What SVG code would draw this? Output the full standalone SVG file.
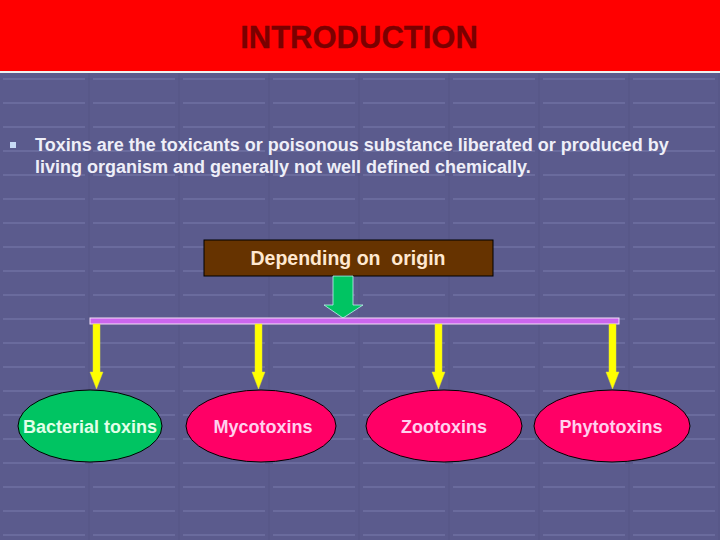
<svg xmlns="http://www.w3.org/2000/svg" width="720" height="540" viewBox="0 0 720 540">
<defs>
<style>
.t{font-family:"Liberation Sans",Arial,sans-serif;font-weight:bold}
.yl{fill:#ffff00;stroke:#e0e040;stroke-width:0.5}
.ell{stroke:#000;stroke-width:1}
</style>
<pattern id="grid" x="0" y="6" width="90" height="24" patternUnits="userSpaceOnUse">
<rect width="90" height="24" fill="#5b5b8d"/>
<rect x="3" y="0" width="82" height="2" fill="#6a6b9d"/>
<rect x="88" y="0" width="2" height="24" fill="#585889"/>
</pattern>
</defs>
<rect width="720" height="540" fill="url(#grid)"/>
<g id="title">
<rect x="0" y="0" width="720" height="72" fill="#ff0000"/>
<rect x="0" y="71" width="720" height="2" fill="#f0f0f0"/>
<text class="t" x="359" y="48" font-size="31" fill="#7a0000" text-anchor="middle" stroke="#7a0000" stroke-width="0.3">INTRODUCTION</text>
</g>
<g id="bullet">
<rect x="10" y="142" width="6" height="6" fill="#c8daf4"/>
<text class="t" x="35" y="151" font-size="18" fill="#eeeef8">Toxins are the toxicants or poisonous substance liberated or produced by</text>
<text class="t" x="35" y="173" font-size="18" fill="#eeeef8">living organism and generally not well defined chemically.</text>
</g>
<g id="origin">
<rect x="204" y="240" width="289" height="36" fill="#663300" stroke="#000" stroke-width="1"/>
<text class="t" x="348" y="265" font-size="19.5" fill="#ffe8d0" text-anchor="middle" style="white-space:pre">Depending on  origin</text>
</g>
<g id="connectors">
<polygon points="333,276 353,276 353,305 363,305 343,318 324,305 333,305" fill="#00c462" stroke="#c0f0f0" stroke-width="0.8"/>
<rect x="90" y="318" width="529" height="6" fill="#cc66ee" stroke="#f4e0f8" stroke-width="1"/>
<polygon class="yl" points="93,324 100,324 100,372 103,372 96.5,389 90,372 93,372"/>
<polygon class="yl" points="255,324 262,324 262,372 265,372 258.5,389 252,372 255,372"/>
<polygon class="yl" points="435,324 442,324 442,372 445,372 438.5,389 432,372 435,372"/>
<polygon class="yl" points="609,324 616,324 616,372 619,372 612.5,389 606,372 609,372"/>
</g>
<g id="bacterial">
<ellipse class="ell" cx="90" cy="426" rx="72" ry="36" fill="#00c462"/>
<text class="t" x="90" y="433" font-size="18" fill="#e0ffe8" text-anchor="middle">Bacterial toxins</text>
</g>
<g id="myco">
<ellipse class="ell" cx="261" cy="426" rx="75" ry="36" fill="#ff0066"/>
<text class="t" x="263" y="433" font-size="18" fill="#ffd0ee" text-anchor="middle">Mycotoxins</text>
</g>
<g id="zoo">
<ellipse class="ell" cx="444" cy="426" rx="78" ry="36" fill="#ff0066"/>
<text class="t" x="444" y="433" font-size="18" fill="#ffd0ee" text-anchor="middle">Zootoxins</text>
</g>
<g id="phyto">
<ellipse class="ell" cx="612" cy="426" rx="78" ry="36" fill="#ff0066"/>
<text class="t" x="611" y="433" font-size="18" fill="#ffd0ee" text-anchor="middle">Phytotoxins</text>
</g>
</svg>
